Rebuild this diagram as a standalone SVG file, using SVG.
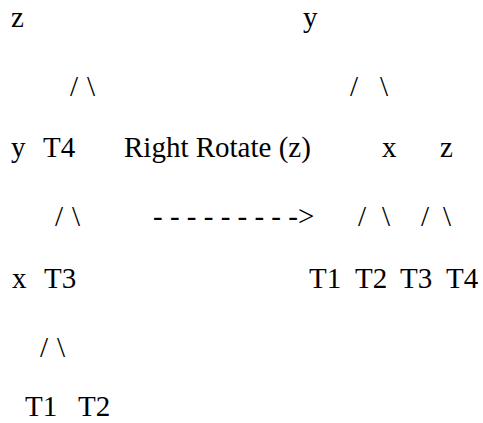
<svg xmlns="http://www.w3.org/2000/svg" width="483" height="423" viewBox="0 0 483 423">
  <style>
    text { font-family: "Liberation Serif", Tinos, "Times New Roman", "DejaVu Serif", serif; font-size: 29px; fill: #000; }
  </style>
  <rect width="483" height="423" fill="#fff"/>
  <g id="left-tree">
    <g id="l-z"><text x="11" y="27">z</text></g>
    <g id="l-y"><text x="11" y="157">y</text></g>
    <g id="l-T4"><text x="43" y="157">T4</text></g>
    <g id="l-x"><text x="12" y="288">x</text></g>
    <g id="l-T3"><text x="44" y="288">T3</text></g>
    <g id="l-T1"><text x="25" y="416">T1</text></g>
    <g id="l-T2"><text x="78" y="416">T2</text></g>
  </g>
  <g id="label">
    <text x="124" y="157">Right Rotate (z)</text>
  </g>
  <g id="right-tree">
    <g id="r-y"><text x="303" y="27">y</text></g>
    <g id="r-x"><text x="382" y="157">x</text></g>
    <g id="r-z"><text x="440" y="157">z</text></g>
    <g id="r-T1"><text x="309" y="288">T1</text></g>
    <g id="r-T2"><text x="355" y="288">T2</text></g>
    <g id="r-T3"><text x="400" y="288">T3</text></g>
    <g id="r-T4"><text x="446" y="288">T4</text></g>
  </g>
  <g id="connectors">
    <text x="70" y="96">/</text>
    <text x="87" y="96">\</text>
    <text x="350" y="96">/</text>
    <text x="380" y="96">\</text>
    <text x="55" y="226">/</text>
    <text x="72" y="226">\</text>
    <text x="153" y="226">- - - - - - - - -&gt;</text>
    <text x="358" y="226">/</text>
    <text x="382" y="226">\</text>
    <text x="421" y="226">/</text>
    <text x="443" y="226">\</text>
    <text x="40" y="357">/</text>
    <text x="57" y="357">\</text>
  </g>
</svg>
